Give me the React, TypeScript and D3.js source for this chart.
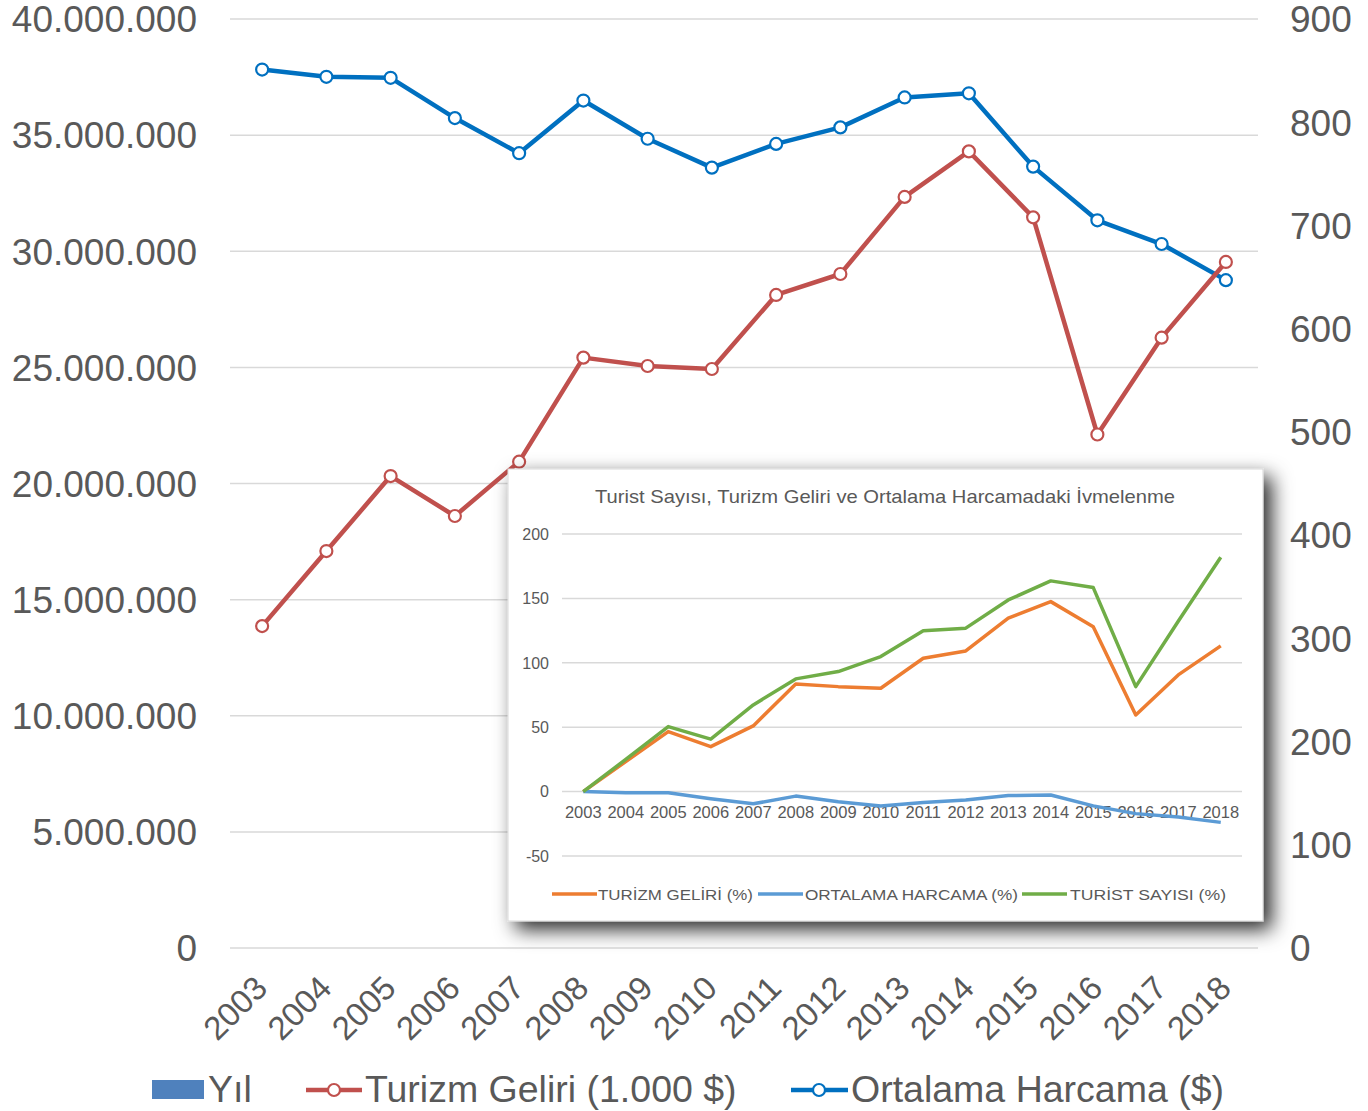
import React from "react";
import * as d3 from "d3";

const years = ["2003","2004","2005","2006","2007","2008","2009","2010","2011","2012","2013","2014","2015","2016","2017","2018"];
const turizmGeliri = [13860000, 17090000, 20320000, 18600000, 20940000, 25420000, 25060000, 24930000, 28120000, 29020000, 32340000, 34300000, 31460000, 22110000, 26280000, 29540000];
const ortalamaHarcama = [851, 844, 843, 804, 770, 821, 784, 756, 779, 795, 824, 828, 757, 705, 682, 647];
const leftTicks = [0, 5000000, 10000000, 15000000, 20000000, 25000000, 30000000, 35000000, 40000000];
const rightTicks = [0, 100, 200, 300, 400, 500, 600, 700, 800, 900];

const insetTitle = "Turist Sayısı, Turizm Geliri ve  Ortalama Harcamadaki İvmelenme";
const turizmGeliriPct = [0, 23.3, 46.6, 34.9, 51, 83.6, 81.5, 80.2, 103.5, 109.2, 134.6, 147.5, 128, 59.5, 90.6, 113.1];
const ortalamaPct = [0, -0.8, -0.9, -5.5, -9.5, -3.5, -7.9, -11.2, -8.4, -6.5, -3.1, -2.6, -11.1, -17.1, -19.8, -23.9];
const turistPct = [0, 25, 50.5, 40.7, 67.3, 87.5, 93.2, 104.8, 124.8, 126.9, 148.8, 163.6, 158.4, 81.5, 132.3, 182];
const insetTicks = [-50, 0, 50, 100, 150, 200];

const FONT = "'Liberation Sans', Arial, sans-serif";
const GRAY = "#595959";
const GRID = "#d9d9d9";

const fmtDots = (v: number) => d3.format(",")(v).replace(/,/g, ".");

export default function App() {
  const W = 1368, H = 1111;
  const x = d3.scaleBand<string>().domain(years).range([230, 1258]).padding(0);
  const yL = d3.scaleLinear().domain([0, 40000000]).range([948, 19]);
  const yR = d3.scaleLinear().domain([0, 900]).range([948, 19]);
  const cx = (y: string) => (x(y) as number) + x.bandwidth() / 2;

  const lineL = d3.line<number>().x((_, i) => cx(years[i])).y(d => yL(d));
  const lineR = d3.line<number>().x((_, i) => cx(years[i])).y(d => yR(d));

  // inset scales
  const ix = d3.scaleBand<string>().domain(years).range([562, 1242]).padding(0);
  const iy = d3.scaleLinear().domain([-50, 200]).range([856, 534]);
  const icx = (y: string) => (ix(y) as number) + ix.bandwidth() / 2;
  const iline = d3.line<number>().x((_, i) => icx(years[i])).y(d => iy(d));

  const insetSeries = [
    { name: "TURİZM GELİRİ (%)", data: turizmGeliriPct, color: "#ED7D31", lx: 552, tx: 598, tw: 155 },
    { name: "ORTALAMA HARCAMA (%)", data: ortalamaPct, color: "#5B9BD5", lx: 758, tx: 805, tw: 213 },
    { name: "TURİST SAYISI  (%)", data: turistPct, color: "#70AD47", lx: 1022, tx: 1070, tw: 156 },
  ];

  return (
    <svg width={W} height={H} style={{ display: "block", position: "absolute", left: 0, top: 0, background: "#fff" }} fontFamily={FONT}>
      <defs>
        <filter id="shadow" x="-10%" y="-10%" width="130%" height="130%">
          <feDropShadow dx="8" dy="8" stdDeviation="10" floodColor="#000" floodOpacity="0.85" />
        </filter>
      </defs>
      <rect x={0} y={0} width={W} height={H} fill="#fff" />
      {/* grid */}
      {leftTicks.map(t => (
        <line key={"g" + t} x1={230} x2={1258} y1={yL(t)} y2={yL(t)} stroke={GRID} strokeWidth={1.5} />
      ))}
      {/* left ticks */}
      {leftTicks.map(t => (
        <text key={"l" + t} x={197} y={yL(t)} dy="0.36em" textAnchor="end" fontSize={37} fill={GRAY}>{fmtDots(t)}</text>
      ))}
      {/* right ticks */}
      {rightTicks.map(t => (
        <text key={"r" + t} x={1290} y={yR(t)} dy="0.36em" textAnchor="start" fontSize={37} fill={GRAY}>{t}</text>
      ))}
      {/* x labels */}
      {years.map(y => (
        <text key={"x" + y} transform={`translate(${cx(y) + 7},${990}) rotate(-45)`} textAnchor="end" fontSize={33} fill={GRAY}>{y}</text>
      ))}
      {/* series lines */}
      <path d={lineR(ortalamaHarcama) || ""} fill="none" stroke="#0070C0" strokeWidth={4.5} strokeLinejoin="round" />
      <path d={lineL(turizmGeliri) || ""} fill="none" stroke="#C0504D" strokeWidth={4.5} strokeLinejoin="round" />
      {ortalamaHarcama.map((v, i) => (
        <circle key={"bm" + i} cx={cx(years[i])} cy={yR(v)} r={6} fill="#fff" stroke="#0070C0" strokeWidth={2.2} />
      ))}
      {turizmGeliri.map((v, i) => (
        <circle key={"rm" + i} cx={cx(years[i])} cy={yL(v)} r={6} fill="#fff" stroke="#C0504D" strokeWidth={2.2} />
      ))}

      {/* legend */}
      <rect x={152} y={1080} width={52} height={19} fill="#4F81BD" />
      <text x={208} y={1102} fontSize={37.5} fill={GRAY}>Yıl</text>
      <line x1={306} x2={362} y1={1090} y2={1090} stroke="#C0504D" strokeWidth={4.5} />
      <circle cx={334} cy={1090} r={6} fill="#fff" stroke="#C0504D" strokeWidth={2.2} />
      <text x={365} y={1102} fontSize={37.5} fill={GRAY}>Turizm Geliri (1.000 $)</text>
      <line x1={791} x2={848} y1={1090} y2={1090} stroke="#0070C0" strokeWidth={4.5} />
      <circle cx={819} cy={1090} r={6} fill="#fff" stroke="#0070C0" strokeWidth={2.2} />
      <text x={851} y={1102} fontSize={37.5} fill={GRAY}>Ortalama Harcama ($)</text>

      {/* inset */}
      <rect x={508} y={469} width={755} height={452} fill="#fff" stroke={GRID} strokeWidth={1} filter="url(#shadow)" />
      <text x={595} y={503} fontSize={19} fill={GRAY} textLength={580} lengthAdjust="spacingAndGlyphs">{insetTitle}</text>
      {insetTicks.map(t => (
        <g key={"it" + t}>
          <line x1={562} x2={1242} y1={iy(t)} y2={iy(t)} stroke={GRID} strokeWidth={1.5} />
          <text x={549} y={iy(t)} dy="0.36em" textAnchor="end" fontSize={16} fill={GRAY}>{t}</text>
        </g>
      ))}
      {years.map(y => (
        <text key={"ix" + y} x={icx(y)} y={818} textAnchor="middle" fontSize={16.5} fill={GRAY}>{y}</text>
      ))}
      {insetSeries.map(s => (
        <path key={"ip" + s.name} d={iline(s.data) || ""} fill="none" stroke={s.color} strokeWidth={3.5} strokeLinejoin="round" />
      ))}
      {insetSeries.map(s => (
        <g key={"il" + s.name}>
          <line x1={s.lx} x2={s.lx + 45} y1={894} y2={894} stroke={s.color} strokeWidth={3.5} />
          <text x={s.tx} y={900} fontSize={15} fill={GRAY} textLength={s.tw} lengthAdjust="spacingAndGlyphs">{s.name}</text>
        </g>
      ))}
    </svg>
  );
}
